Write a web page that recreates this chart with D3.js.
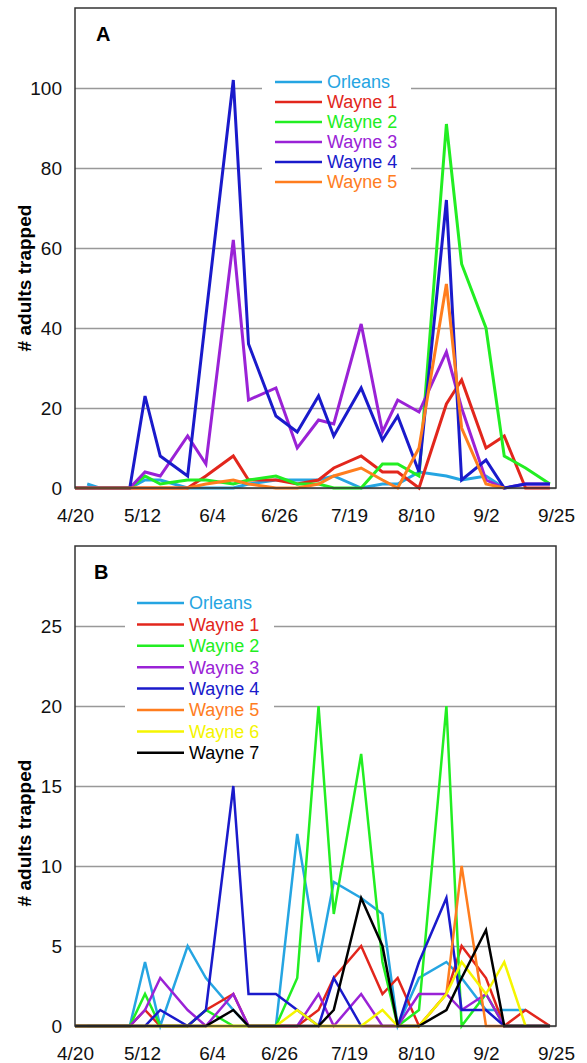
<!DOCTYPE html>
<html>
<head>
<meta charset="utf-8">
<script src="https://cdn.jsdelivr.net/npm/d3@7"></script>
<style>
  body { margin: 0; background: #fff; }
  svg text { font-family: "Liberation Sans", Arial, sans-serif; }
</style>
</head>
<body>
<svg id="chart" width="587" height="1063"></svg>
<script>
// sampling dates (m/d)
const dates = ["4/20","4/24","4/28","5/8","5/13","5/18","5/27","6/2","6/11","6/16","6/25","7/2",
               "7/9","7/14","7/23","7/30","8/4","8/11","8/20","8/25","9/2","9/8","9/15","9/23"];
const xTickLabels = ["4/20","5/12","6/4","6/26","7/19","8/10","9/2","9/25"];

const siteNames  = ["Orleans","Wayne 1","Wayne 2","Wayne 3","Wayne 4","Wayne 5","Wayne 6","Wayne 7"];
const siteColors = ["#25a5e2","#e2261c","#22ee22","#9a22d6","#1a1acb","#ff7d1e","#f5f500","#000000"];

// panel A counts
const orleansA = [null,1,0,0,2,2,0,0,0,1,2,2,2,3,0,1,1,4,3,2,3,0,null,null];
const wayne1A  = [0,0,0,0,0,0,0,3,8,2,2,1,2,5,8,4,4,0,21,27,10,13,0,0];
const wayne2A  = [0,0,0,0,3,1,2,2,1,2,3,1,1,0,0,6,6,3,91,56,40,8,5,1];
const wayne3A  = [0,0,0,0,4,3,13,6,62,22,25,10,17,16,41,14,22,19,34,20,2,0,1,1];
const wayne4A  = [0,0,0,0,23,8,3,43,102,36,18,14,23,13,25,12,18,4,72,2,7,0,1,1];
const wayne5A  = [0,0,0,0,0,0,0,1,2,1,0,0,1,3,5,2,0,10,51,15,1,0,null,null];

// panel B counts
const orleansB = [null,0,0,0,4,0,5,3,1,0,0,12,4,9,8,7,0,3,4,3,1,1,1,null];
const wayne1B  = [0,0,0,0,1,0,0,1,2,0,0,0,1,3,5,2,3,0,2,5,3,0,1,0];
const wayne2B  = [0,0,0,0,2,0,0,1,0,0,0,3,20,7,17,4,0,1,20,0,2,0,0,0];
const wayne3B  = [0,0,0,0,1,3,1,0,2,0,0,0,2,0,2,0,0,2,2,1,2,0,0,0];
const wayne4B  = [0,0,0,0,0,1,0,1,15,2,2,1,0,3,0,0,0,4,8,1,1,0,0,0];
const wayne5B  = [0,0,0,0,0,0,0,0,0,0,0,0,0,0,0,0,0,0,2,10,0,0,0,0];
const wayne6B  = [0,0,0,0,0,0,0,0,0,0,0,1,0,0,0,1,0,0,2,4,2,4,0,null];
const wayne7B  = [0,0,0,0,0,0,0,0,1,0,0,0,0,1,8,5,0,0,1,3,6,0,0,0];

const yTicksA = [0,20,40,60,80,100];
const yTicksB = [0,5,10,15,20,25];

const parseMD = s => d3.timeParse("%m/%d/%Y")(s + "/2010");
const svg = d3.select("#chart");

function drawPanel(opt) {
  const left = 75, right = 556, top = opt.top, bottom = opt.bottom;

  const x = d3.scaleTime()
    .domain([parseMD("4/20"), parseMD("9/25")])
    .range([left, right]);
  const y = d3.scaleLinear().domain([0, opt.yMax]).range([bottom, top]);

  const g = svg.append("g");

  // gridlines + y labels
  const yAxis = g.append("g")
    .attr("transform", `translate(${left},0)`)
    .call(d3.axisLeft(y).tickValues(opt.yTicks).tickSize(-(right - left)).tickPadding(13));
  yAxis.select(".domain").remove();
  yAxis.selectAll("line").attr("stroke", "#999").attr("stroke-width", 1.5);
  yAxis.selectAll("text").attr("font-size", 19).attr("fill", "#111");

  const xAxis = g.append("g")
    .attr("transform", `translate(0,${bottom})`)
    .call(d3.axisBottom(x).tickValues(xTickLabels.map(parseMD))
      .tickFormat(d3.timeFormat("%-m/%-d")).tickSize(0).tickPadding(21));
  xAxis.select(".domain").remove();
  xAxis.selectAll("text").attr("font-size", 19).attr("fill", "#111");

  // legend background (hides gridlines)
  g.append("rect")
    .attr("x", opt.legX0).attr("y", opt.legY - 14)
    .attr("width", opt.legX1 - opt.legX0)
    .attr("height", opt.legStep * (opt.series.length - 1) + 28)
    .attr("fill", "#fff");

  const line = d3.line()
    .defined(d => d.v != null)
    .x(d => x(parseMD(d.date)))
    .y(d => y(d.v));

  opt.series.forEach((vals, i) => {
    const pts = vals.map((v, j) => ({ date: dates[j], v: v }));
    g.append("path")
      .attr("d", line(pts))
      .attr("fill", "none")
      .attr("stroke", siteColors[i])
      .attr("stroke-width", opt.lw)
      .attr("stroke-linejoin", "miter");
  });

  // frame
  g.append("rect")
    .attr("x", left).attr("y", top)
    .attr("width", right - left).attr("height", bottom - top)
    .attr("fill", "none").attr("stroke", "#333").attr("stroke-width", 1.5);

  // legend
  opt.series.forEach((vals, i) => {
    const ly = opt.legY + i * opt.legStep;
    g.append("line")
      .attr("x1", opt.legLineX).attr("x2", opt.legLineX + 47)
      .attr("y1", ly).attr("y2", ly)
      .attr("stroke", siteColors[i]).attr("stroke-width", 2.5);
    g.append("text")
      .attr("x", opt.legLineX + 52).attr("y", ly)
      .attr("dy", "0.35em")
      .attr("font-size", 18)
      .attr("fill", siteColors[i])
      .text(siteNames[i]);
  });

  // panel letter
  g.append("text")
    .attr("x", opt.letterX).attr("y", opt.letterY)
    .attr("font-size", 20).attr("font-weight", "bold")
    .text(opt.letter);

  // y title
  g.append("text")
    .attr("transform", `translate(24,${opt.titleY}) rotate(-90)`)
    .attr("text-anchor", "middle")
    .attr("dy", "0.35em")
    .attr("font-size", 19).attr("font-weight", "bold")
    .text("# adults trapped");
}

drawPanel({
  top: 8, bottom: 488, yMax: 120, yTicks: yTicksA, lw: 3,
  series: [orleansA, wayne1A, wayne2A, wayne3A, wayne4A, wayne5A],
  legX0: 262, legX1: 411, legY: 82, legStep: 20, legLineX: 275,
  letter: "A", letterX: 96, letterY: 41, titleY: 278
});

drawPanel({
  top: 546, bottom: 1026, yMax: 30, yTicks: yTicksB, lw: 2.5,
  series: [orleansB, wayne1B, wayne2B, wayne3B, wayne4B, wayne5B, wayne6B, wayne7B],
  legX0: 125, legX1: 274, legY: 603, legStep: 21.4, legLineX: 137,
  letter: "B", letterX: 94, letterY: 579, titleY: 833
});
</script>
</body>
</html>
